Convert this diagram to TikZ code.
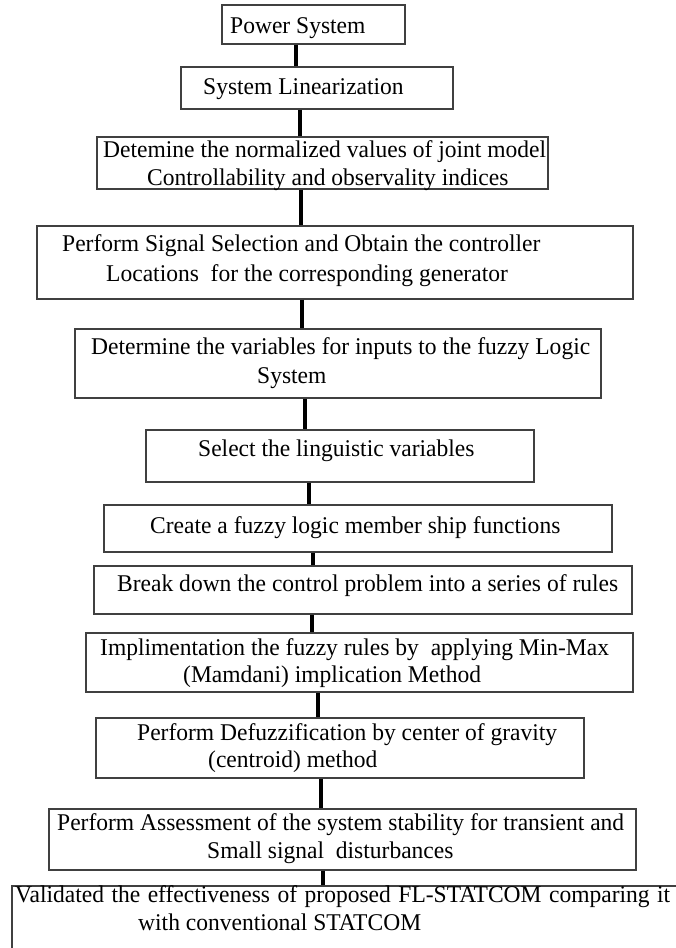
\documentclass[tikz,border=0pt]{standalone}
\usepackage{fontspec}
\setmainfont[FakeStretch=0.98]{Liberation Serif}
\begin{document}
\begin{tikzpicture}[x=1pt,y=-1pt,
  box/.style={draw=black!75,line width=1.3pt,rectangle,inner sep=0pt,fill=none},
  txt/.style={inner sep=0pt,anchor=base west,font=\fontsize{24}{28}\selectfont},
  conn/.style={line width=3.6pt,black}]
\clip (0,0) rectangle (676,948);
\fill[white] (0,0) rectangle (676,948);
% boxes
\node[box,minimum width=183pt,minimum height=39pt] (b1) at (313.5,24.5) {};
\node[box,minimum width=272pt,minimum height=42pt] (b2) at (317,88) {};
\node[box,minimum width=451pt,minimum height=52pt] (b3) at (322.5,163) {};
\node[box,minimum width=596pt,minimum height=73pt] (b4) at (335,262.5) {};
\node[box,minimum width=526pt,minimum height=69pt] (b5) at (338,363.5) {};
\node[box,minimum width=388pt,minimum height=52pt] (b6) at (340,456) {};
\node[box,minimum width=508pt,minimum height=47pt] (b7) at (358,528.5) {};
\node[box,minimum width=538pt,minimum height=48pt] (b8) at (363,590) {};
\node[box,minimum width=547pt,minimum height=59pt] (b9) at (359.5,662.5) {};
\node[box,minimum width=488pt,minimum height=60pt] (b10) at (340,748) {};
\node[box,minimum width=587pt,minimum height=61pt] (b11) at (342.5,839.5) {};
\node[box,minimum width=678pt,minimum height=74pt] (b12) at (351,923) {};
% texts
\node[txt] (t1) at (230,33) {Power System};
\node[txt] (t2) at (203,94) {System Linearization};
\node[txt] (t3a) at (103,157) {Detemine the normalized values of joint model};
\node[txt] (t3b) at (147,185) {Controllability and observality indices};
\node[txt] (t4a) at (62,251) {Perform Signal Selection and Obtain the controller};
\node[txt] (t4b) at (106,281) {Locations\ \ for the corresponding generator};
\node[txt] (t5a) at (91,354) {Determine the variables for inputs to the fuzzy Logic};
\node[txt] (t5b) at (257,383) {System};
\node[txt] (t6) at (198,456) {Select the linguistic variables};
\node[txt] (t7) at (150,533) {Create a fuzzy logic member ship functions};
\node[txt] (t8) at (117,591) {Break down the control problem into a series of rules};
\node[txt] (t9a) at (100,655) {Implimentation the fuzzy rules by\ \ applying Min-Max};
\node[txt] (t9b) at (183,682) {(Mamdani) implication Method};
\node[txt] (t10a) at (137,740) {Perform Defuzzification by center of gravity};
\node[txt] (t10b) at (208,767) {(centroid) method};
\node[txt] (t11a) at (57,830) {Perform Assessment of the system stability for transient and};
\node[txt] (t11b) at (207,858) {Small signal\ \ disturbances};
\node[txt] (t12a) at (15,902) {\spaceskip=7.5pt Validated the effectiveness of proposed FL-STATCOM comparing it};
\node[txt] (t12b) at (138,930) {with conventional STATCOM};
% connector x positions
\coordinate (x1) at (296,0);
\coordinate (x2) at (300,0);
\coordinate (x3) at (301,0);
\coordinate (x4) at (302,0);
\coordinate (x5) at (305,0);
\coordinate (x6) at (309,0);
\coordinate (x7) at (313,0);
\coordinate (x8) at (312,0);
\coordinate (x9) at (318,0);
\coordinate (x10) at (321,0);
\coordinate (x11) at (323,0);
\draw[conn] (b1.south -| x1) -- (b2.north -| x1);
\draw[conn] (b2.south -| x2) -- (b3.north -| x2);
\draw[conn] (b3.south -| x3) -- (b4.north -| x3);
\draw[conn] (b4.south -| x4) -- (b5.north -| x4);
\draw[conn] (b5.south -| x5) -- (b6.north -| x5);
\draw[conn] (b6.south -| x6) -- (b7.north -| x6);
\draw[conn] (b7.south -| x7) -- (b8.north -| x7);
\draw[conn] (b8.south -| x8) -- (b9.north -| x8);
\draw[conn] (b9.south -| x9) -- (b10.north -| x9);
\draw[conn] (b10.south -| x10) -- (b11.north -| x10);
\draw[conn] (b11.south -| x11) -- (b12.north -| x11);
\end{tikzpicture}
\end{document}
